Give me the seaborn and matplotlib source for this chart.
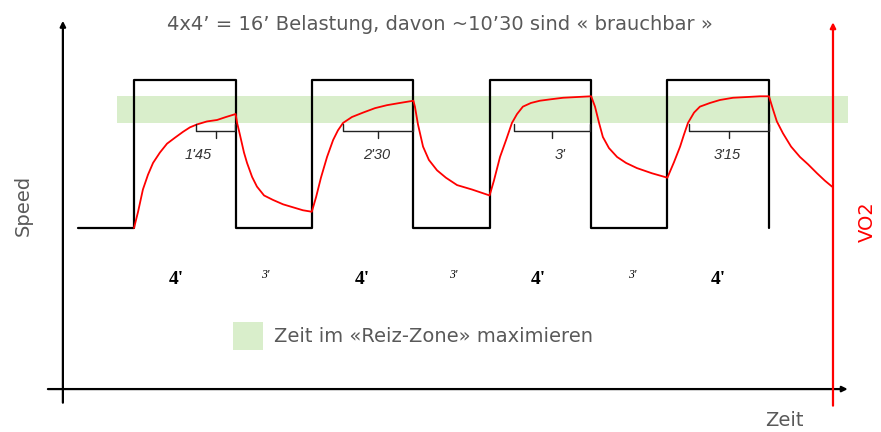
import matplotlib.pyplot as plt
import seaborn as sns
import pandas as pd

sns.set_theme(style="white")
plt.rcParams['font.family'] = ['DejaVu Sans']

# time in minutes (0 = start of first 4' interval), level: 0 = rest speed, 1 = work speed
speed_t = [-2.2, 0, 4, 7, 11, 14, 18, 21, 25]
speed_level = [0, 1, 0, 1, 0, 1, 0, 1, 0]

vo2_t = [0, 0.16, 0.35, 0.55, 0.75, 1.02, 1.30, 1.61, 1.93, 2.20, 2.48, 2.87, 3.27, 3.62, 4.0,
         4.06, 4.17, 4.33, 4.45, 4.65, 4.84, 5.12, 5.47, 5.87, 6.26, 6.65, 7.0,
         7.17, 7.36, 7.60, 7.84, 8.03, 8.23, 8.58, 9.02, 9.49, 9.96, 10.47, 11.0,
         11.06, 11.18, 11.38, 11.61, 11.93, 12.28, 12.72, 13.31, 14.0,
         14.17, 14.41, 14.65, 14.88, 15.08, 15.31, 15.63, 15.98, 16.42, 16.89, 17.44, 18.0,
         18.15, 18.31, 18.46, 18.70, 19.02, 19.37, 19.80, 20.39, 21.0,
         21.26, 21.50, 21.65, 21.81, 22.05, 22.28, 22.68, 23.07, 23.58, 24.13, 24.65, 25.0,
         25.16, 25.31, 25.55, 25.87, 26.22, 26.54, 26.89, 27.20, 27.48]
vo2_level = [0, 0.11, 0.26, 0.36, 0.44, 0.51, 0.57, 0.61, 0.65, 0.68, 0.70, 0.72, 0.73, 0.75, 0.77,
             0.71, 0.63, 0.51, 0.44, 0.345, 0.28, 0.22, 0.19, 0.16, 0.14, 0.12, 0.11,
             0.21, 0.34, 0.48, 0.595, 0.66, 0.71, 0.75, 0.78, 0.81, 0.83, 0.845, 0.86,
             0.82, 0.70, 0.55, 0.46, 0.39, 0.34, 0.29, 0.26, 0.22,
             0.32, 0.48, 0.595, 0.71, 0.77, 0.82, 0.845, 0.86, 0.87, 0.88, 0.885, 0.89,
             0.82, 0.71, 0.615, 0.54, 0.48, 0.44, 0.405, 0.37, 0.34,
             0.445, 0.55, 0.63, 0.71, 0.78, 0.82, 0.845, 0.865, 0.88, 0.885, 0.89, 0.89,
             0.80, 0.72, 0.64, 0.55, 0.48, 0.43, 0.37, 0.32, 0.28]

# "Reiz-Zone" band
zone_low, zone_high = 0.71, 0.89
zone_start, zone_end = -0.67, 28.1

# time spent in the zone per interval
bracket_start = [2.44, 8.23, 14.96, 21.85]
bracket_end = [3.98, 10.98, 17.95, 25.0]
bracket_labels = ["1'45", "2'30", "3'", "3'15"]
bracket_label_t = [2.52, 9.57, 16.77, 23.35]

work_t = [1.65, 9.0, 15.9, 23.0]
work_labels = ["4'", "4'", "4'", "4'"]
rest_t = [5.16, 12.56, 19.6]
rest_labels = ["3'", "3'", "3'"]

fig = plt.figure(figsize=(8.81, 4.32), dpi=100)
ax = fig.add_axes([0, 0, 1, 1])

gray = '#595959'
red = '#ff0000'
green = '#d9eecb'

# green zone
ax.fill_between([zone_start, zone_end], zone_low, zone_high, color=green, lw=0, zorder=1)

# speed (square wave)
speed_df = pd.DataFrame({'t': speed_t, 'v': speed_level})
sns.lineplot(data=speed_df, x='t', y='v', ax=ax, drawstyle='steps-post',
             color='black', lw=1.6, zorder=2, sort=False)

# VO2 curve
vo2_df = pd.DataFrame({'t': vo2_t, 'v': vo2_level})
sns.lineplot(data=vo2_df, x='t', y='v', ax=ax, color=red, lw=1.3, zorder=3, sort=False)

ax.set_xlim(-5.276, 29.41)
ax.set_ylim(-1.378, 1.5405)
ax.axis('off')

# brackets
for s, e, lab, lt in zip(bracket_start, bracket_end, bracket_labels, bracket_label_t):
    m = (s + e) / 2
    ax.plot([s, s, e, e], [0.70, 0.655, 0.655, 0.70], color='#222222', lw=1.0, zorder=4)
    ax.plot([m, m], [0.655, 0.605], color='#222222', lw=1.0, zorder=4)
    ax.text(lt, 0.49, lab, ha='center', va='center', fontsize=10.5, style='italic',
            family='Liberation Sans', color='#333333')

for t, lab in zip(work_t, work_labels):
    ax.text(t, -0.35, lab, ha='center', va='center', fontsize=14, fontweight='bold',
            family='Liberation Serif', color='black')
for t, lab in zip(rest_t, rest_labels):
    ax.text(t, -0.32, lab, ha='center', va='center', fontsize=8.5, style='italic',
            family='Liberation Serif', color='black')

# legend square
ax.fill_between([3.9, 5.08], -0.824, -0.635, color=green, lw=0)
ax.text(5.51, -0.73, "Zeit im «Reiz-Zone» maximieren", ha='left', va='center',
        fontsize=14, color=gray)

# axes arrows
arrow = dict(arrowstyle='-|>', lw=1.6, color='black', mutation_scale=8, shrinkA=0, shrinkB=0)
ax.annotate('', xy=(-2.8, 1.40), xytext=(-2.8, -1.18), arrowprops=arrow)
ax.annotate('', xy=(28.1, -1.088), xytext=(-3.39, -1.088), arrowprops=arrow)
red_arrow = dict(arrowstyle='-|>', lw=1.6, color=red, mutation_scale=8, shrinkA=0, shrinkB=0)
ax.annotate('', xy=(27.52, 1.39), xytext=(27.52, -1.20), arrowprops=red_arrow)

fig.text(440 / 881, 1 - 24 / 432, "4x4’ = 16’ Belastung, davon ~10’30 sind « brauchbar »",
         ha='center', va='center', fontsize=14, color=gray)
fig.text(23 / 881, 1 - 205 / 432, "Speed", rotation=90, ha='center', va='center',
         fontsize=14, color=gray)
fig.text(867 / 881, 1 - 222 / 432, "VO2", rotation=90, ha='center', va='center',
         fontsize=14, color=red)
fig.text(784 / 881, 1 - 421 / 432, "Zeit", ha='center', va='center', fontsize=14, color=gray)

fig.savefig('out.png', dpi=100)
